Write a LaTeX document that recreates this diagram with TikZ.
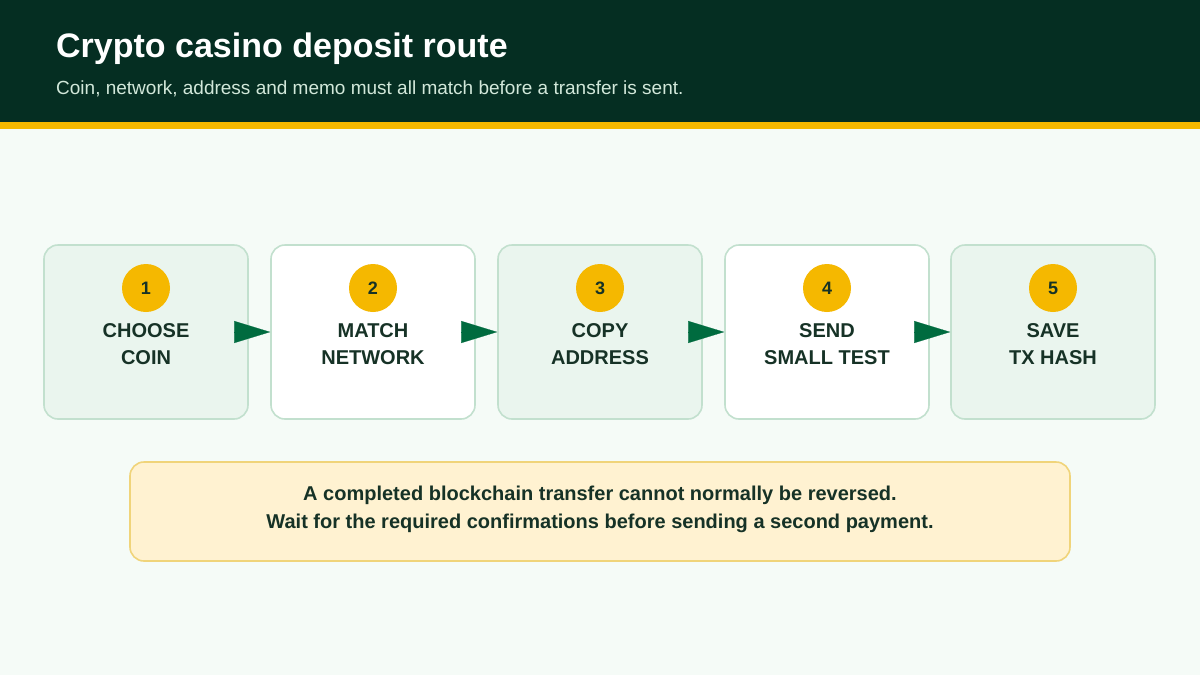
\documentclass[tikz,border=0pt]{standalone}
\usepackage{fontspec}
\setmainfont{Liberation Sans}
\usetikzlibrary{arrows.meta}
\definecolor{bgc}{HTML}{F5FBF7}
\definecolor{headc}{HTML}{052E22}
\definecolor{goldc}{HTML}{F5B800}
\definecolor{subc}{HTML}{D2E8DA}
\definecolor{tintc}{HTML}{EAF5EE}
\definecolor{edgec}{HTML}{C2E0CE}
\definecolor{inkc}{HTML}{163226}
\definecolor{arrc}{HTML}{006B3F}
\definecolor{notec}{HTML}{FFF2D1}
\definecolor{noteedge}{HTML}{F0D47A}
\tikzset{
  stepbox/.style={draw=edgec, line width=1.6pt, rounded corners=14pt, minimum width=204pt, minimum height=174pt, inner sep=0pt},
  numdot/.style={circle, fill=goldc, minimum size=48pt, inner sep=0pt, text=inkc, font=\bfseries\fontsize{18}{20}\selectfont},
  steplabel/.style={text=inkc, align=center, font=\bfseries\fontsize{20}{27}\selectfont},
  flow/.style={draw=arrc, fill=arrc, line width=0.2pt, -{Triangle[length=36pt,width=22pt]}},
}
\begin{document}
\begin{tikzpicture}[x=1pt,y=-1pt]
\useasboundingbox (0,0) rectangle (1200,675);
\fill[bgc] (0,0) rectangle (1200,675);
\fill[headc] (0,0) rectangle (1200,122);
\fill[goldc] (0,122) rectangle (1200,129);
\node[anchor=base west, text=white, font=\bfseries\fontsize{34}{36}\selectfont, inner sep=0pt] (title) at (56,57) {Crypto casino deposit route};
\node[anchor=base west, text=subc, font=\fontsize{19}{22}\selectfont, inner sep=0pt] (sub) at (56,94) {Coin, network, address and memo must all match before a transfer is sent.};
% step boxes
\node[stepbox, fill=tintc] (b1) at (146,332) {};
\node[stepbox, fill=white] (b2) at (373,332) {};
\node[stepbox, fill=tintc] (b3) at (600,332) {};
\node[stepbox, fill=white] (b4) at (827,332) {};
\node[stepbox, fill=tintc] (b5) at (1053,332) {};
\foreach \i/\x/\t in {1/146/{CHOOSE\\COIN},2/373/{MATCH\\NETWORK},3/600/{COPY\\ADDRESS},4/827/{SEND\\SMALL TEST},5/1053/{SAVE\\TX HASH}}{
  \node[numdot] (n\i) at (\x,288) {\i};
  \node[steplabel] (l\i) at (\x,344) {\t};
}
\foreach \a/\b in {b1/b2,b2/b3,b3/b4,b4/b5}{
  \draw[flow] ([xshift=-14pt]\a.east) -- (\b.west);
}
% note
\node[draw=noteedge, fill=notec, line width=1.6pt, rounded corners=14pt, minimum width=940pt, minimum height=99pt, inner sep=0pt] (note) at (600,511.5) {};
\node[text=inkc, align=center, font=\bfseries\fontsize{20}{28}\selectfont] (notetext) at (600,509) {A completed blockchain transfer cannot normally be reversed.\\Wait for the required confirmations before sending a second payment.};
\end{tikzpicture}
\end{document}
